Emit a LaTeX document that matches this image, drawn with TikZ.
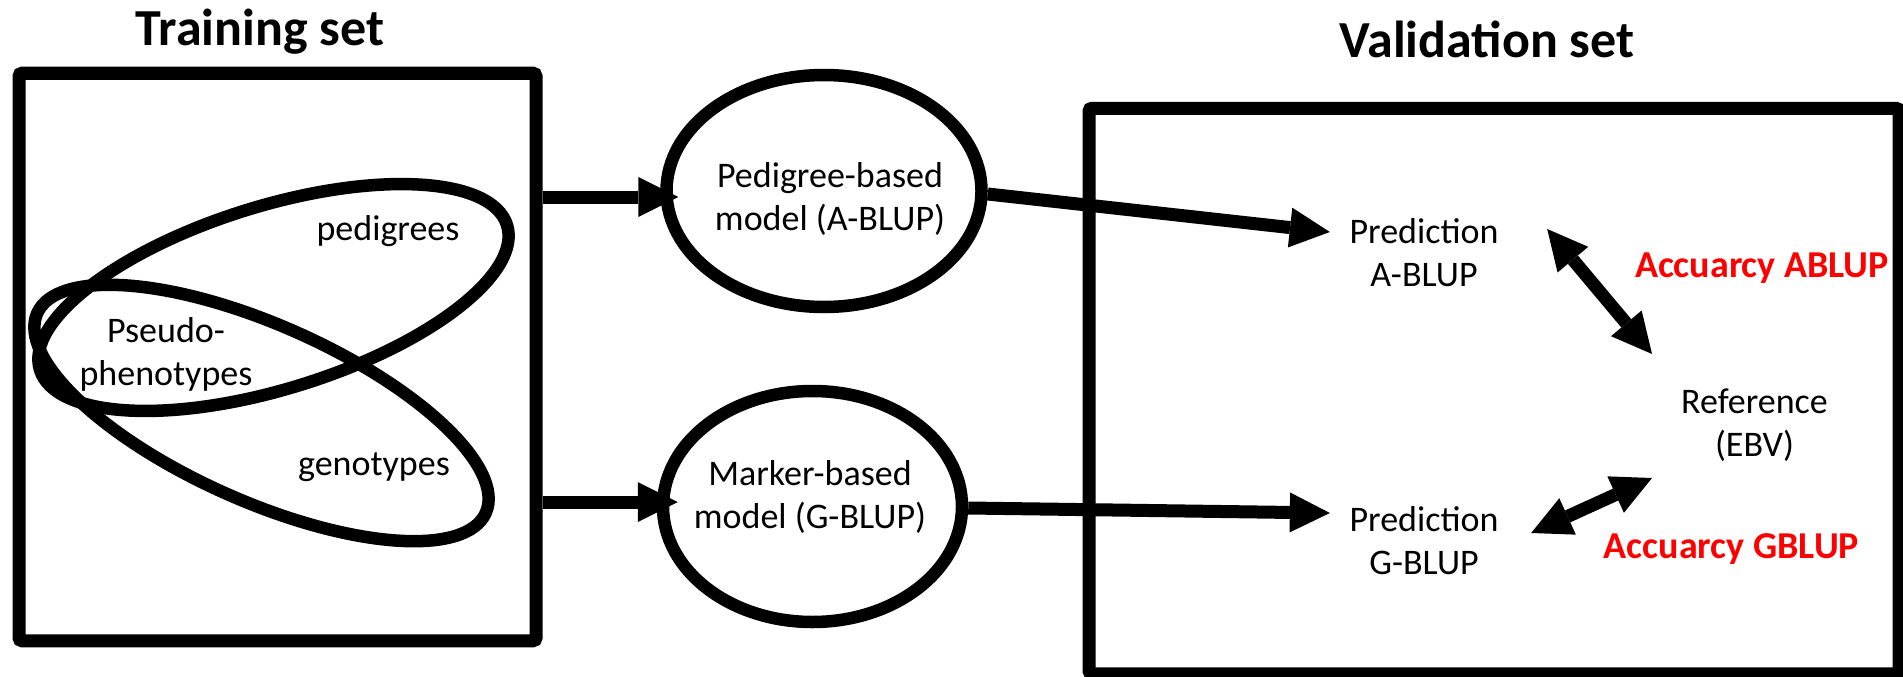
\documentclass[tikz,border=0pt]{standalone}
\usepackage{fontspec}
\setmainfont{Carlito}
\usetikzlibrary{arrows.meta,calc,shapes.geometric}
\begin{document}
\begin{tikzpicture}[x=1pt,y=-1pt,
  >={Triangle[length=40pt,width=40pt,line width=0pt]},
  lbl/.style={font=\fontsize{36}{43}\selectfont, inner sep=0pt, align=center},
  ttl/.style={font=\fontsize{52}{60}\selectfont\bfseries, inner sep=0pt, anchor=base},
  acc/.style={font=\fontsize{38}{45}\selectfont\bfseries, text={rgb,255:red,255;green,0;blue,0}, inner sep=0pt, anchor=base},
  setbox/.style={draw, line width=13pt, rounded corners=3pt, inner sep=0pt},
  oval/.style={draw, ellipse, line width=12.5pt, inner sep=0pt},
  arr/.style={->, line width=13pt},
  darr/.style={<->, line width=13pt}]
\useasboundingbox (0,0) rectangle (1903,677);
\clip (0,0) rectangle (1903,677);

% titles
\node[ttl] (ttrain) at (260,46) {Training set};
\node[ttl] (tvalid) at (1487,57.5) {Validation set};

% boxes
\node[setbox, minimum width=517pt, minimum height=567.5pt] (train) at (277.5,357) {};
\node[setbox, minimum width=810pt, minimum height=565.5pt] (valid) at (1494,391) {};

% overlapping sets
\node[oval, minimum width=489pt, minimum height=183pt, rotate=17.2] (pedset) at (273.5,297.5) {};
\node[oval, minimum width=491pt, minimum height=176pt, rotate=-24] (genset) at (261.5,413) {};
\node[lbl, anchor=base] (tped) at (388,240) {pedigrees};
\node[lbl, anchor=base] (tgen) at (374,475) {genotypes};
\node[lbl] (tpseudo) at (166,354.5) {Pseudo-\\phenotypes};

% models
\node[oval, minimum width=315pt, minimum height=232pt] (pedm) at (824,191) {};
\node[lbl] (pedmt) at (830,199) {Pedigree-based\\model (A-BLUP)};
\node[oval, minimum width=299pt, minimum height=231pt] (mkm) at (812.5,506.5) {};
\node[lbl] (mkmt) at (810,496.5) {Marker-based\\model (G-BLUP)};

% validation contents
\node[lbl] (predA) at (1424,253) {Prediction\\A-BLUP};
\node[lbl] (predG) at (1424,541) {Prediction\\G-BLUP};
\node[lbl] (ref) at (1754.5,425) {Reference\\(EBV)};
\node[acc] (accA) at (1762,277) {Accuarcy ABLUP};
\node[acc] (accG) at (1731.5,558) {Accuarcy GBLUP};

% connectors
\draw[arr] ([yshift=-6pt]train.east |- pedm.west) -- ([xshift=18pt,yshift=-6pt]pedm.west);
\draw[arr] ([yshift=4.5pt]train.east |- mkm.west) -- ([xshift=21pt,yshift=4.5pt]mkm.west);
\draw[arr] ([yshift=-3pt]pedm.east) -- ([xshift=-19.5pt,yshift=21pt]predA.west);
\draw[arr] ([yshift=-1.5pt]mkm.east) -- ([xshift=-19.5pt,yshift=28pt]predG.west);
\draw[darr] ([xshift=48.5pt,yshift=24pt]predA.east) -- ([xshift=-29pt,yshift=71pt]ref.west);
\draw[darr] ([xshift=32.5pt,yshift=8pt]predG.east) -- ([xshift=-29pt,yshift=-53pt]ref.west);
\end{tikzpicture}
\end{document}
